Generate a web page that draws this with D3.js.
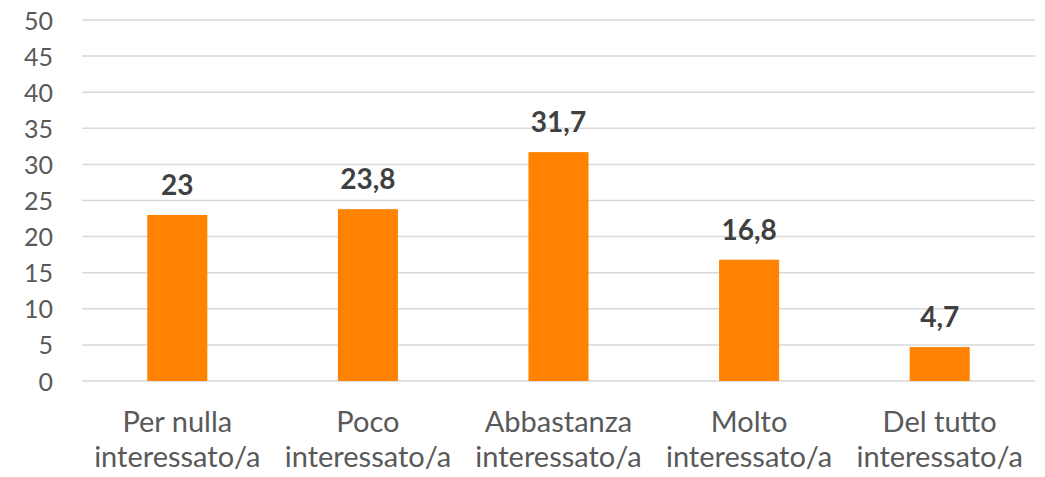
<!DOCTYPE html>
<html>
<head>
<meta charset="utf-8">
<script src="https://cdn.jsdelivr.net/npm/d3@7"></script>
<style>
  html, body { margin: 0; padding: 0; background: #fff; }
  svg { display: block; }
</style>
</head>
<body>
<svg id="chart" width="1045" height="477"></svg>
<script>
// Interest levels and percentages
const categories = [
  ["Per nulla", "interessato/a"],
  ["Poco", "interessato/a"],
  ["Abbastanza", "interessato/a"],
  ["Molto", "interessato/a"],
  ["Del tutto", "interessato/a"]
];
const values = [23, 23.8, 31.7, 16.8, 4.7];
const yTicks = [0, 5, 10, 15, 20, 25, 30, 35, 40, 45, 50];

(function () {
  const svg = d3.select("#chart");
  const plot = { left: 82, right: 1035, top: 20, bottom: 381 };
  const font = "Lato, 'Open Sans', sans-serif";

  const x = d3.scaleBand()
    .domain(d3.range(values.length))
    .range([plot.left, plot.right])
    .paddingInner(0.685)
    .paddingOuter(0.3425);

  const y = d3.scaleLinear().domain([0, 50]).range([plot.bottom, plot.top]);

  // Horizontal gridlines
  svg.append("g")
    .selectAll("line")
    .data(yTicks)
    .join("line")
    .attr("x1", plot.left).attr("x2", plot.right)
    .attr("y1", d => y(d)).attr("y2", d => y(d))
    .attr("stroke", "#d9d9d9")
    .attr("stroke-width", 1.5);

  // Y axis labels
  const yAxis = d3.axisLeft(y).tickValues(yTicks).tickSize(0).tickPadding(0);
  const yg = svg.append("g").attr("transform", `translate(${plot.left - 29},0)`).call(yAxis);
  yg.select(".domain").remove();
  yg.selectAll("text")
    .attr("font-family", font)
    .attr("font-size", 25)
    .attr("fill", "#595959")
    .attr("dy", "0.36em");

  // Bars
  svg.append("g")
    .selectAll("rect")
    .data(values)
    .join("rect")
    .attr("x", (d, i) => x(i))
    .attr("width", x.bandwidth())
    .attr("y", d => y(d))
    .attr("height", d => y(0) - y(d))
    .attr("fill", "#ff8200");

  // Value labels
  svg.append("g")
    .selectAll("text")
    .data(values)
    .join("text")
    .attr("x", (d, i) => x(i) + x.bandwidth() / 2)
    .attr("y", d => y(d) - 20)
    .attr("text-anchor", "middle")
    .attr("font-family", font)
    .attr("font-size", 28)
    .attr("font-weight", "bold")
    .attr("fill", "#404040")
    .text(d => String(d).replace(".", ","));

  // Category labels (two lines)
  const xg = svg.append("g");
  categories.forEach((lines, i) => {
    const cx = x(i) + x.bandwidth() / 2;
    const t = xg.append("text")
      .attr("x", cx)
      .attr("y", 432)
      .attr("text-anchor", "middle")
      .attr("font-family", font)
      .attr("font-size", 29)
      .attr("fill", "#595959");
    lines.forEach((l, j) => {
      t.append("tspan")
        .attr("x", cx)
        .attr("dy", j === 0 ? 0 : 35)
        .text(l);
    });
  });
})();
</script>
</body>
</html>
